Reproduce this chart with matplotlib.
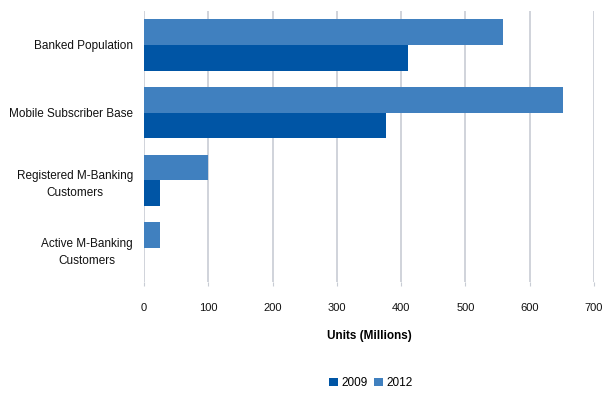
import numpy as np
import matplotlib
matplotlib.use("Agg")
import matplotlib.pyplot as plt

# values (millions)
categories = ["Banked Population", "Mobile Subscriber Base",
              "Registered M-Banking\nCustomers", "Active M-Banking\nCustomers"]
years = ["2009", "2012"]
values_2009 = [411, 376, 25, 0]
values_2012 = [558, 651, 99, 25]
x_ticks = [0, 100, 200, 300, 400, 500, 600, 700]

colors = {"2009": "#0055A5", "2012": "#4080BF"}
plt.rcParams["font.family"] = ["Liberation Sans Narrow", "Liberation Sans", "DejaVu Sans"]

fig = plt.figure(figsize=(6.08, 3.94), dpi=100)
ax = fig.add_axes([0.237, 0.284, 0.740, 0.688])

pos = np.arange(len(categories))
h = 0.38
ax.barh(pos + h / 2, values_2009, height=h, color=colors["2009"], label="2009", zorder=3)
ax.barh(pos - h / 2, values_2012, height=h, color=colors["2012"], label="2012", zorder=3)

ax.set_ylim(len(categories) - 0.5, -0.5)
ax.set_yticks(pos)
ax.set_yticklabels(categories, fontsize=8.5, color="#111111", multialignment="center",
                   linespacing=1.6)
ax.set_xlim(0, 700)
ax.set_xticks(x_ticks)
ax.set_xticklabels([str(t) for t in x_ticks], fontsize=8, color="#111111")
ax.tick_params(axis="y", length=0, pad=8)
ax.tick_params(axis="x", length=3, color="#C8CCD4", pad=12)
ax.xaxis.grid(True, color="#C8CCD4", linewidth=1.2, zorder=0)
for s in ax.spines.values():
    s.set_visible(False)

ax.set_xlabel("Units (Millions)", fontsize=8.5, fontweight="bold", labelpad=12)

handles, labels = ax.get_legend_handles_labels()
fig.legend(handles, labels, loc="center", bbox_to_anchor=(0.61, 0.028), ncol=2,
           frameon=False, fontsize=8.5, handlelength=0.7, handleheight=0.7,
           handletextpad=0.3, columnspacing=0.6)

fig.savefig("out.png", dpi=100)
